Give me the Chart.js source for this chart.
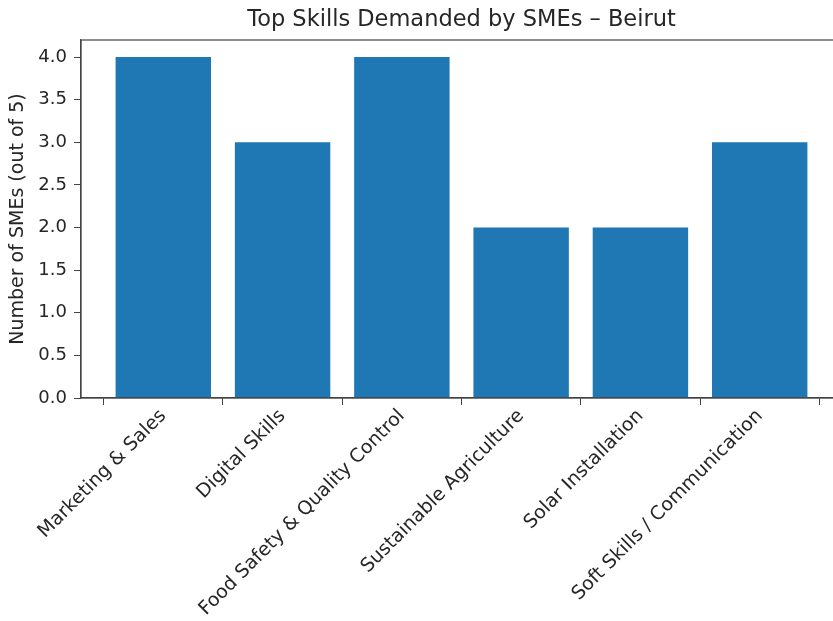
<!DOCTYPE html>
<html lang="en">
<head>
  <meta charset="UTF-8">
  <title>Top Skills Demanded by SMEs – Beirut</title>
  <script src="https://cdn.jsdelivr.net/npm/chart.js"></script>
  <style>
    body { margin: 0; background: #fff; overflow: hidden; }
    #wrap { width: 833px; height: 621px; overflow: hidden; }
    #wrap div { width: 850px; height: 621px; }
  </style>
</head>
<body>
  <div id="wrap"><div><canvas id="chart"></canvas></div></div>

  <script>
    const skills = [
      'Marketing & Sales',
      'Digital Skills',
      'Food Safety & Quality Control',
      'Sustainable Agriculture',
      'Solar Installation',
      'Soft Skills / Communication'
    ];
    const smeCounts = [4, 3, 4, 2, 2, 3];
    const yTicks = [0, 0.5, 1, 1.5, 2, 2.5, 3, 3.5, 4];

    const font = 'DejaVu Sans';
    const ink = '#262626';

    // matplotlib-like box around the plot
    const frame = {
      id: 'frame',
      afterDraw(chart) {
        const a = chart.chartArea, c = chart.ctx;
        c.save();
        c.strokeStyle = '#444';
        c.lineWidth = 1.2;
        c.strokeRect(a.left, a.top, a.right - a.left, a.bottom - a.top);
        c.restore();
      }
    };

    new Chart(document.getElementById('chart'), {
      type: 'bar',
      data: {
        datasets: [{
          data: smeCounts.map((v, i) => ({ x: i, y: v })),
          backgroundColor: '#1f77b4',
          borderWidth: 0,
          barPercentage: 0.8,
          categoryPercentage: 1
        }]
      },
      options: {
        responsive: true,
        maintainAspectRatio: false,
        animation: false,
        layout: { padding: { left: 0, right: 8, top: 0, bottom: 0 } },
        plugins: {
          legend: { display: false },
          tooltip: { enabled: false },
          title: {
            display: true,
            fullSize: false,
            text: 'Top Skills Demanded by SMEs – Beirut',
            color: ink,
            font: { family: font, size: 22.5, weight: 'normal' },
            padding: { top: 6.5, bottom: 6.5 }
          }
        },
        scales: {
          x: {
            type: 'linear',
            min: -0.69,
            max: 5.69,
            offset: false,
            afterBuildTicks: s => { s.ticks = skills.map((_, i) => ({ value: i })); },
            afterFit: s => { s.height = 223; },
            grid: { drawOnChartArea: false, drawTicks: true, tickLength: 7, color: '#444' },
            border: { color: '#444', width: 1.2 },
            ticks: {
              autoSkip: false,
              minRotation: 45,
              maxRotation: 45,
              padding: 0,
              color: ink,
              font: { family: font, size: 19 },
              callback: v => skills[v]
            }
          },
          y: {
            min: 0,
            max: 4.2,
            afterBuildTicks: s => { s.ticks = yTicks.map(v => ({ value: v })); },
            afterFit: s => { s.width = 81; },
            grid: { drawOnChartArea: false, drawTicks: true, tickLength: 7, color: '#444' },
            border: { color: '#444', width: 1.2 },
            ticks: {
              padding: 7,
              color: ink,
              font: { family: font, size: 18 },
              callback: v => v.toFixed(1)
            },
            title: {
              display: true,
              text: 'Number of SMEs (out of 5)',
              color: ink,
              font: { family: font, size: 19 },
              padding: { top: 7, bottom: 0 }
            }
          }
        }
      },
      plugins: [frame]
    });
  </script>
</body>
</html>
